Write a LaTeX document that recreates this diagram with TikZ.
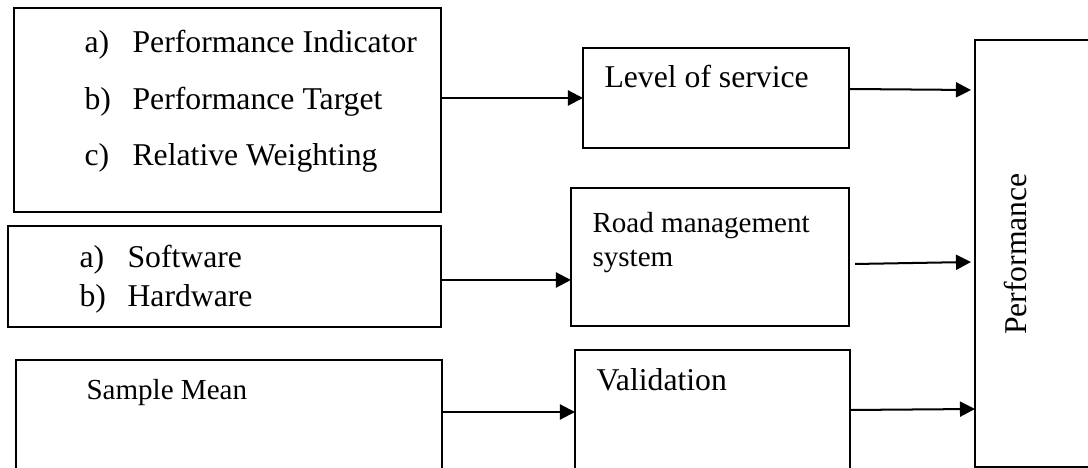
\documentclass[tikz,border=0pt]{standalone}
\usepackage{fontspec}
\setmainfont{Liberation Serif}
\usetikzlibrary{arrows.meta,fit,calc}
\begin{document}
\begin{tikzpicture}[x=0.3785pt,y=-0.3785pt,
  thickbox/.style={draw=black,line width=0.76pt,inner sep=0pt,outer sep=0pt},
  thinbox/.style={draw=black,line width=0.42pt,inner sep=0pt,outer sep=0pt},
  arr/.style={draw=black,line width=0.76pt,-{Triangle[length=5.7pt,width=5.7pt]}},
  txt/.style={inner sep=0pt,anchor=base west,font=\fontsize{12}{14.4}\selectfont},
  txts/.style={inner sep=0pt,anchor=base west,font=\fontsize{11}{13.2}\selectfont}]
\useasboundingbox (0,0) rectangle (1088,468);
\clip (0,0) rectangle (1088,468);
% boxes
\node[thickbox, fit={(14,8)(441,212)}] (b1) {};
\node[thickbox, fit={(8,226)(441,327)}] (b2) {};
\node[thinbox, fit={(16,360)(442,490)}] (b3) {};
\node[thickbox, fit={(583,48)(849,148)}] (los) {};
\node[thinbox, fit={(571,188)(849,326)}] (rms) {};
\node[thinbox, fit={(575,350)(850,490)}] (val) {};
\node[thickbox, fit={(975,40)(1120,467)}] (perf) {};
% texts
\node[txt] (t1a) at (84,53) {\makebox[18.2pt][l]{a)}Performance Indicator};
\node[txt] (t1b) at (84,110) {\makebox[18.2pt][l]{b)}Performance Target};
\node[txt] (t1c) at (84,166) {\makebox[18.2pt][l]{c)}Relative Weighting};
\node[txt] (t2a) at (79,268) {\makebox[18.2pt][l]{a)}Software};
\node[txt] (t2b) at (79,307) {\makebox[18.2pt][l]{b)}Hardware};
\node[txts] (t3) at (86,400) {Sample Mean};
\node[txt] (tlos) at (604,88) {Level of service};
\node[txts] (trms1) at (592,233) {Road management};
\node[txts] (trms2) at (592,267) {system};
\node[txt] (tval) at (596,391) {Validation};
\node[txt, rotate=90, anchor=base] (tperf) at (1026,254) {Performance};
% connectors
\draw[arr] (b1.east |- los.west) -- (los.west);
\draw[arr] ($(b2.east)+(0,3.5)$) coordinate (a2s) -- (a2s -| rms.west);
\draw[arr] ($(b3.north east)+(0,52)$) coordinate (a3s) -- (a3s -| val.west);
\draw[arr] ($(los.north east)+(0,41)$) -- ($(perf.north west)+(-4,50)$);
\draw[arr] ($(rms.north east)+(6,76)$) -- ($(perf.north west)+(-4,222)$);
\draw[arr] ($(val.north east)+(0,60)$) -- ($(perf.north west)+(0,369)$);
\end{tikzpicture}
\end{document}
